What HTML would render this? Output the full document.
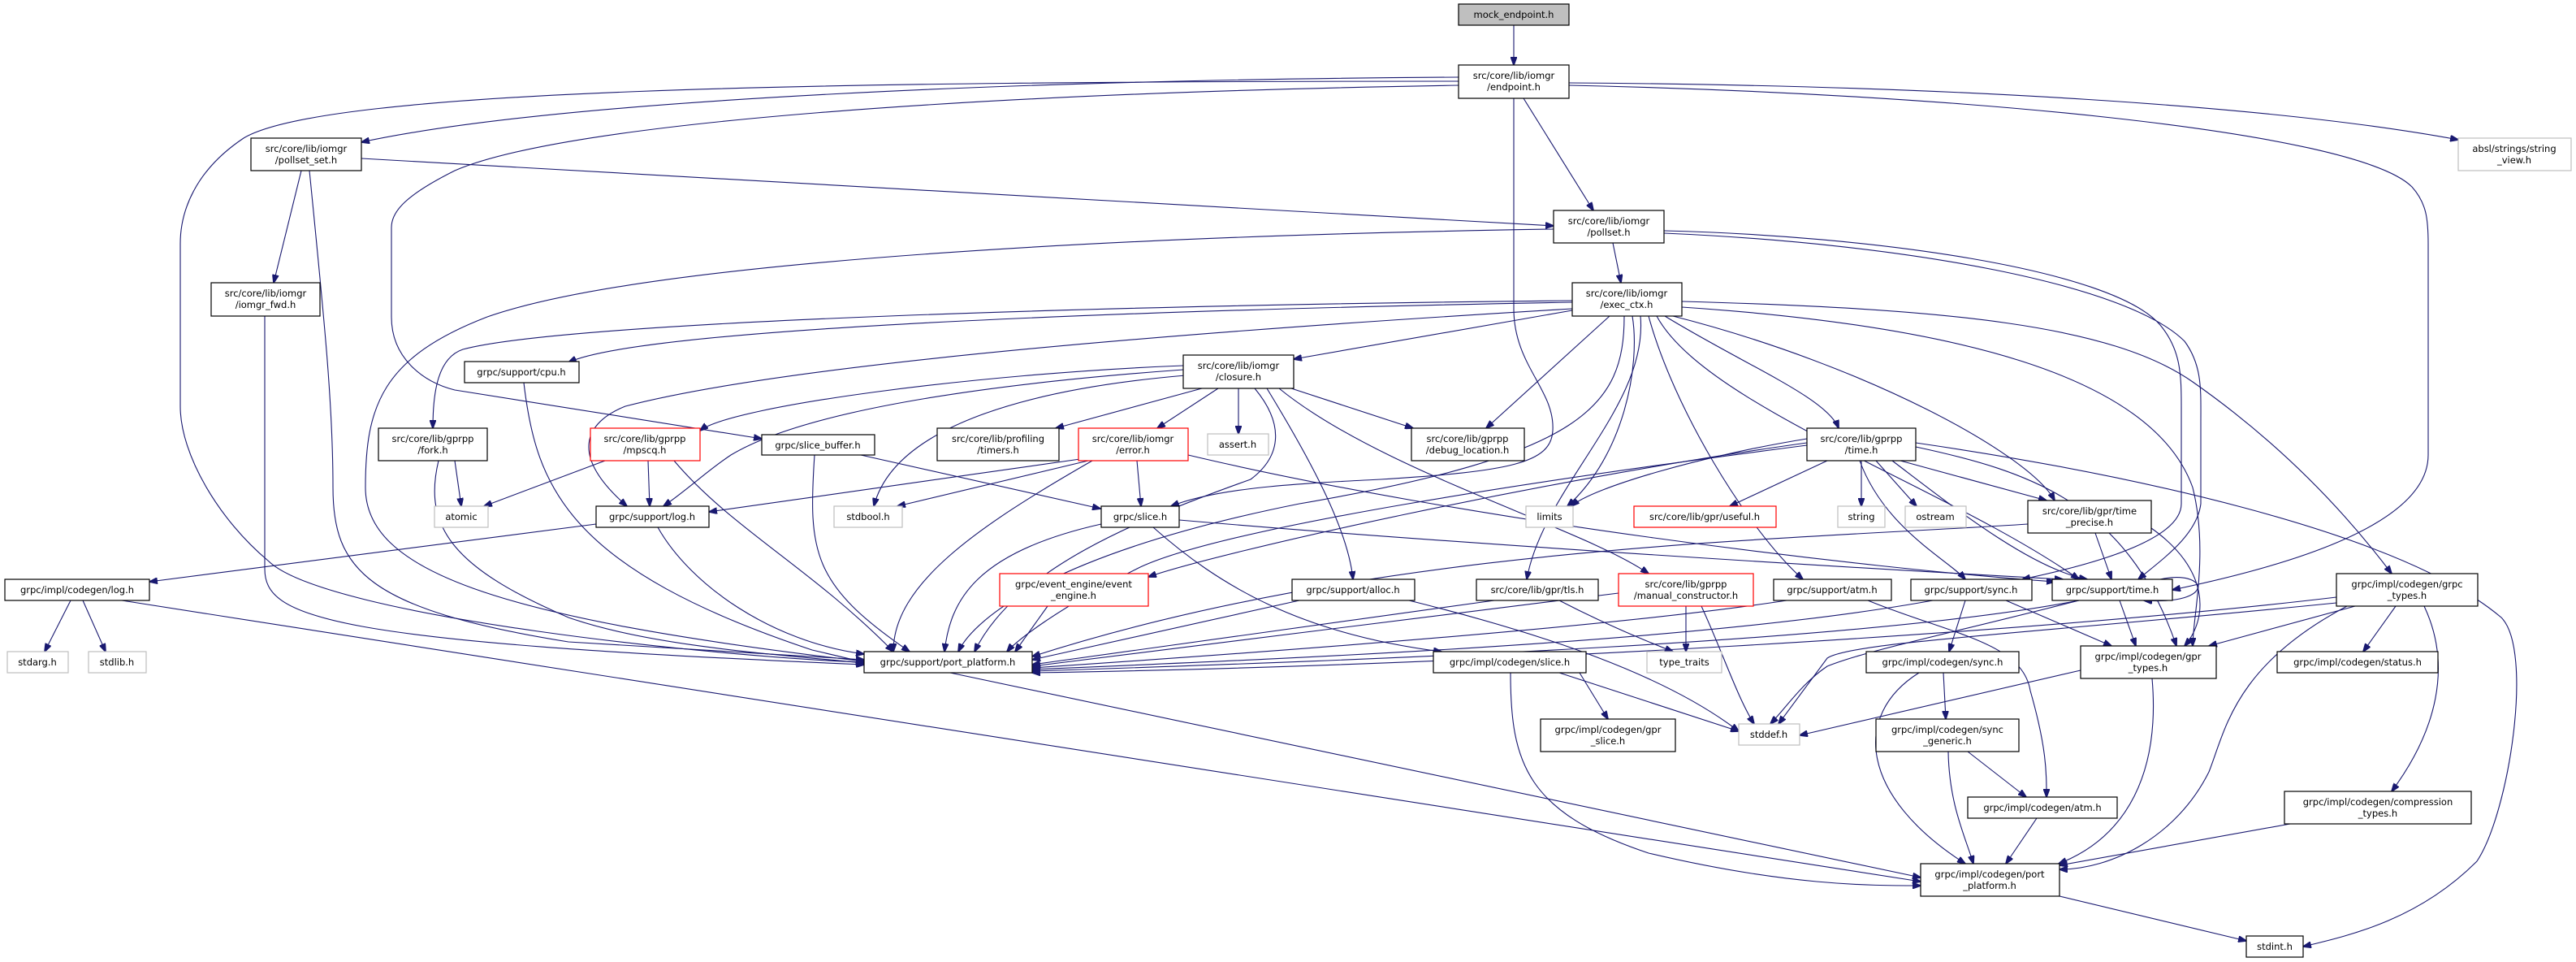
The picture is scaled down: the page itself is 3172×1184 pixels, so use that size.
<!DOCTYPE html>
<html><head><meta charset="utf-8"><style>
html,body{margin:0;padding:0;background:#fff;}
svg{display:block;}
text{font-family:"DejaVu Sans","Liberation Sans",sans-serif;font-size:11.5px;fill:#000;text-anchor:middle;}
.e{fill:none;stroke:#191970;stroke-width:1.1;marker-end:url(#a);}
.n{fill:#fff;stroke:#000;stroke-width:1.2;}
.g{fill:#fff;stroke:#bfbfbf;stroke-width:1.2;}
.r{fill:#fff;stroke:#ff0000;stroke-width:1.2;}
</style></head><body>
<svg width="3172" height="1184" viewBox="0 0 3172 1184" xmlns="http://www.w3.org/2000/svg">
<defs><marker id="a" markerWidth="11" markerHeight="8" refX="10" refY="4" orient="auto" markerUnits="userSpaceOnUse"><path d="M0,0 L11,4 L0,8 z" fill="#191970" stroke="#191970"/></marker></defs>
<g>
<path class="e" d="M1864 31 L1864 80"/>
<path class="e" d="M1796 95 C1300 98, 700 120, 445 175"/>
<path class="e" d="M1796 100 C1000 100, 400 110, 300 170 C240 210, 222 260, 222 300 L222 500 C222 560, 270 640, 330 690 C400 760, 900 810, 1064 815"/>
<path class="e" d="M1796 105 C1200 115, 700 150, 560 210 C500 240, 482 260, 482 280 L482 390 C482 440, 520 470, 560 480 L938 540"/>
<path class="e" d="M1876 121 L1962 259"/>
<path class="e" d="M1932 102 C2400 105, 2800 130, 3027 172"/>
<path class="e" d="M1932 105 C2400 115, 2900 160, 2970 230 C2988 250, 2990 270, 2990 300 L2990 560 C2990 650, 2800 700, 2675 726"/>
<path class="e" d="M1864 121 L1864 380 C1864 450, 1915 480, 1912 530 C1910 570, 1860 580, 1700 590 C1600 595, 1500 600, 1442 623"/>
<path class="e" d="M445 195 L1913 278"/>
<path class="e" d="M371 210 L337 348"/>
<path class="e" d="M381 210 C400 400, 410 500, 410 600 C410 700, 450 750, 700 790 L1064 812"/>
<path class="e" d="M326 389 L326 700 C326 760, 400 790, 1064 818"/>
<path class="e" d="M1986 299 L1996 348"/>
<path class="e" d="M1913 282 C1400 290, 800 320, 600 390 C470 440, 450 500, 450 600 C450 700, 600 760, 1064 814"/>
<path class="e" d="M2049 284 C2300 290, 2600 330, 2660 400 C2685 430, 2686 460, 2686 500 L2686 620 C2686 660, 2600 690, 2490 713"/>
<path class="e" d="M2049 287 C2350 300, 2620 350, 2690 420 C2712 450, 2710 480, 2710 520 L2710 620 C2705 660, 2660 690, 2633 713"/>
<path class="e" d="M1936 382 L1593 442"/>
<path class="e" d="M1936 372 C1500 380, 800 400, 700 446"/>
<path class="e" d="M1936 370 C1400 375, 700 395, 570 430 C540 440, 533 480, 533 527"/>
<path class="e" d="M1936 380 C1600 400, 1000 440, 770 500 C720 520, 700 560, 772 623"/>
<path class="e" d="M1982 389 L1830 527"/>
<path class="e" d="M2050 389 C2150 450, 2250 490, 2264 527"/>
<path class="e" d="M2010 389 C2020 450, 2000 560, 1930 623"/>
<path class="e" d="M2060 389 C2300 450, 2500 560, 2530 616"/>
<path class="e" d="M2071 378 C2400 400, 2650 460, 2700 600 C2720 680, 2700 760, 2700 795"/>
<path class="e" d="M2071 371 C2400 380, 2600 400, 2700 470 C2800 540, 2880 620, 2945 706"/>
<path class="e" d="M2000 389 C2000 500, 1950 560, 1600 620 C1300 680, 1200 760, 1180 802"/>
<path class="e" d="M2020 389 C2030 500, 1900 600, 1880 713"/>
<path class="e" d="M2040 389 C2100 500, 2400 600, 2560 713"/>
<path class="e" d="M2030 389 C2060 500, 2150 650, 2220 713"/>
<path class="e" d="M1457 450 C1200 460, 900 500, 862 530"/>
<path class="e" d="M1457 455 C1250 470, 1000 500, 900 560 C870 580, 850 600, 817 623"/>
<path class="e" d="M1460 462 C1250 480, 1100 530, 1076 623"/>
<path class="e" d="M1480 478 L1300 527"/>
<path class="e" d="M1500 478 L1425 527"/>
<path class="e" d="M1525 478 L1525 534"/>
<path class="e" d="M1590 478 L1740 527"/>
<path class="e" d="M1545 478 C1580 520, 1580 560, 1540 590 C1400 640, 1250 700, 1200 802"/>
<path class="e" d="M1560 478 C1610 560, 1660 650, 1666 713"/>
<path class="e" d="M1575 478 C1700 580, 1950 650, 2030 706"/>
<path class="e" d="M645 471 C660 600, 700 700, 1000 800 L1064 815"/>
<path class="e" d="M560 567 L568 623"/>
<path class="e" d="M540 567 C520 650, 560 700, 700 760 C800 795, 950 805, 1064 816"/>
<path class="e" d="M745 567 L596 623"/>
<path class="e" d="M798 567 L800 623"/>
<path class="e" d="M830 567 C900 650, 1000 700, 1100 802"/>
<path class="e" d="M1060 560 L1355 626"/>
<path class="e" d="M1003 560 C995 680, 1000 720, 1120 802"/>
<path class="e" d="M1330 565 L873 630"/>
<path class="e" d="M1400 567 L1405 623"/>
<path class="e" d="M1340 567 L1105 623"/>
<path class="e" d="M1345 567 C1200 650, 1100 720, 1100 802"/>
<path class="e" d="M1463 560 C1800 640, 2300 700, 2530 716"/>
<path class="e" d="M734 645 L184 716"/>
<path class="e" d="M810 649 C850 720, 950 790, 1064 805"/>
<path class="e" d="M87 739 L55 802"/>
<path class="e" d="M102 739 L130 802"/>
<path class="e" d="M150 739 L2365 1085"/>
<path class="e" d="M1356 645 C1200 680, 1170 740, 1163 802"/>
<path class="e" d="M1420 649 C1500 720, 1600 780, 1775 802"/>
<path class="e" d="M1452 640 C1800 670, 2300 700, 2540 713"/>
<path class="e" d="M2225 540 C2100 560, 1960 600, 1935 623"/>
<path class="e" d="M2250 567 L2130 623"/>
<path class="e" d="M2292 567 L2292 623"/>
<path class="e" d="M2310 567 L2360 623"/>
<path class="e" d="M2340 567 L2520 616"/>
<path class="e" d="M2330 567 C2400 620, 2500 700, 2570 713"/>
<path class="e" d="M2359 550 C2500 580, 2620 620, 2680 795"/>
<path class="e" d="M2359 545 C2600 580, 2950 650, 3080 760 C3120 800, 3090 1000, 3050 1060 C2980 1130, 2900 1150, 2836 1165"/>
<path class="e" d="M2225 548 C1900 590, 1500 650, 1400 700 C1300 750, 1250 790, 1240 802"/>
<path class="e" d="M2225 545 C1900 590, 1500 680, 1414 710"/>
<path class="e" d="M2290 567 C2320 650, 2400 690, 2420 713"/>
<path class="e" d="M2580 656 L2600 713"/>
<path class="e" d="M2649 650 C2720 700, 2720 760, 2690 795"/>
<path class="e" d="M2497 645 C2200 665, 1700 670, 1271 808"/>
<path class="e" d="M1290 746 L1250 802"/>
<path class="e" d="M1600 739 L1271 812"/>
<path class="e" d="M1735 739 C1900 780, 2050 830, 2141 900"/>
<path class="e" d="M1840 739 L1271 818"/>
<path class="e" d="M1920 739 C1980 770, 2030 790, 2060 802"/>
<path class="e" d="M1993 730 L1271 820"/>
<path class="e" d="M2076 746 L2076 802"/>
<path class="e" d="M2095 746 C2120 800, 2140 860, 2160 891"/>
<path class="e" d="M2200 739 C2000 770, 1600 800, 1271 822"/>
<path class="e" d="M2300 739 C2400 780, 2490 790, 2500 850 C2520 920, 2520 950, 2520 981"/>
<path class="e" d="M2380 739 C2100 790, 1600 810, 1271 824"/>
<path class="e" d="M2420 739 L2400 802"/>
<path class="e" d="M2470 739 L2600 795"/>
<path class="e" d="M2560 739 C2300 790, 1700 812, 1271 826"/>
<path class="e" d="M2610 739 L2630 795"/>
<path class="e" d="M2560 739 C2400 780, 2300 800, 2250 820 C2220 840, 2200 870, 2180 891"/>
<path class="e" d="M2660 713 C2720 700, 2730 745, 2640 739"/>
<path class="e" d="M2877 735 C2500 780, 1800 820, 1271 828"/>
<path class="e" d="M2900 746 L2720 795"/>
<path class="e" d="M2950 746 L2910 802"/>
<path class="e" d="M2985 746 C3020 820, 3000 900, 2945 974"/>
<path class="e" d="M2890 746 C2750 820, 2740 900, 2720 950 C2680 1030, 2600 1070, 2536 1070"/>
<path class="e" d="M2877 742 C2500 780, 2280 790, 2250 810 L2190 891"/>
<path class="e" d="M1170 828 L2365 1080"/>
<path class="e" d="M1945 828 L1980 885"/>
<path class="e" d="M1920 828 L2141 900"/>
<path class="e" d="M1860 828 C1860 940, 1880 1000, 2030 1050 C2200 1090, 2300 1090, 2365 1090"/>
<path class="e" d="M2562 825 L2216 905"/>
<path class="e" d="M2650 835 C2660 950, 2620 1030, 2535 1063"/>
<path class="e" d="M2393 828 L2396 885"/>
<path class="e" d="M2363 828 C2280 880, 2290 980, 2420 1063"/>
<path class="e" d="M2399 925 C2400 990, 2420 1030, 2430 1063"/>
<path class="e" d="M2423 925 L2495 981"/>
<path class="e" d="M2508 1007 L2470 1063"/>
<path class="e" d="M2820 1014 L2536 1065"/>
<path class="e" d="M2536 1103 L2766 1158"/>
</g>
<g>
<rect x="1796" y="5" width="136" height="26" fill="#bfbfbf" stroke="#000" stroke-width="1.2"/><text x="1864" y="22">mock_endpoint.h</text>
<rect class="n" x="1796" y="80" width="136" height="41"/><text x="1864" y="97">src/core/lib/iomgr</text><text x="1864" y="111">/endpoint.h</text>
<rect class="n" x="309" y="170" width="136" height="40"/><text x="377" y="187">src/core/lib/iomgr</text><text x="377" y="201">/pollset_set.h</text>
<rect class="g" x="3027" y="170" width="139" height="40"/><text x="3096" y="187">absl/strings/string</text><text x="3096" y="201">_view.h</text>
<rect class="n" x="1913" y="259" width="136" height="40"/><text x="1981" y="276">src/core/lib/iomgr</text><text x="1981" y="290">/pollset.h</text>
<rect class="n" x="260" y="348" width="134" height="41"/><text x="327" y="365">src/core/lib/iomgr</text><text x="327" y="379">/iomgr_fwd.h</text>
<rect class="n" x="1936" y="348" width="135" height="41"/><text x="2003" y="365">src/core/lib/iomgr</text><text x="2003" y="379">/exec_ctx.h</text>
<rect class="n" x="572" y="445" width="141" height="26"/><text x="642" y="462">grpc/support/cpu.h</text>
<rect class="n" x="1457" y="437" width="136" height="41"/><text x="1525" y="454">src/core/lib/iomgr</text><text x="1525" y="468">/closure.h</text>
<rect class="n" x="466" y="527" width="134" height="40"/><text x="533" y="544">src/core/lib/gprpp</text><text x="533" y="558">/fork.h</text>
<rect class="r" x="727" y="527" width="135" height="40"/><text x="794" y="544">src/core/lib/gprpp</text><text x="794" y="558">/mpscq.h</text>
<rect class="n" x="938" y="535" width="139" height="25"/><text x="1007" y="552">grpc/slice_buffer.h</text>
<rect class="n" x="1154" y="527" width="150" height="40"/><text x="1229" y="544">src/core/lib/profiling</text><text x="1229" y="558">/timers.h</text>
<rect class="r" x="1328" y="527" width="135" height="40"/><text x="1395" y="544">src/core/lib/iomgr</text><text x="1395" y="558">/error.h</text>
<rect class="g" x="1487" y="534" width="75" height="26"/><text x="1524" y="551">assert.h</text>
<rect class="n" x="1738" y="527" width="139" height="40"/><text x="1807" y="544">src/core/lib/gprpp</text><text x="1807" y="558">/debug_location.h</text>
<rect class="n" x="2225" y="527" width="134" height="40"/><text x="2292" y="544">src/core/lib/gprpp</text><text x="2292" y="558">/time.h</text>
<rect class="g" x="535" y="623" width="66" height="26"/><text x="568" y="640">atomic</text>
<rect class="n" x="734" y="623" width="139" height="26"/><text x="803" y="640">grpc/support/log.h</text>
<rect class="g" x="1027" y="623" width="84" height="26"/><text x="1069" y="640">stdbool.h</text>
<rect class="n" x="1356" y="623" width="96" height="26"/><text x="1404" y="640">grpc/slice.h</text>
<rect class="g" x="1879" y="623" width="58" height="26"/><text x="1908" y="640">limits</text>
<rect class="r" x="2012" y="623" width="175" height="26"/><text x="2099" y="640">src/core/lib/gpr/useful.h</text>
<rect class="g" x="2263" y="623" width="58" height="26"/><text x="2292" y="640">string</text>
<rect class="g" x="2346" y="623" width="75" height="26"/><text x="2383" y="640">ostream</text>
<rect class="n" x="2497" y="616" width="152" height="40"/><text x="2573" y="633">src/core/lib/gpr/time</text><text x="2573" y="647">_precise.h</text>
<rect class="n" x="6" y="713" width="178" height="26"/><text x="95" y="730">grpc/impl/codegen/log.h</text>
<rect class="r" x="1231" y="706" width="183" height="40"/><text x="1322" y="723">grpc/event_engine/event</text><text x="1322" y="737">_engine.h</text>
<rect class="n" x="1591" y="713" width="151" height="26"/><text x="1666" y="730">grpc/support/alloc.h</text>
<rect class="n" x="1818" y="713" width="150" height="26"/><text x="1893" y="730">src/core/lib/gpr/tls.h</text>
<rect class="r" x="1993" y="706" width="166" height="40"/><text x="2076" y="723">src/core/lib/gprpp</text><text x="2076" y="737">/manual_constructor.h</text>
<rect class="n" x="2184" y="713" width="145" height="26"/><text x="2256" y="730">grpc/support/atm.h</text>
<rect class="n" x="2353" y="713" width="149" height="26"/><text x="2427" y="730">grpc/support/sync.h</text>
<rect class="n" x="2527" y="713" width="148" height="26"/><text x="2601" y="730">grpc/support/time.h</text>
<rect class="n" x="2877" y="706" width="174" height="40"/><text x="2964" y="723">grpc/impl/codegen/grpc</text><text x="2964" y="737">_types.h</text>
<rect class="g" x="9" y="802" width="75" height="26"/><text x="46" y="819">stdarg.h</text>
<rect class="g" x="109" y="802" width="71" height="26"/><text x="144" y="819">stdlib.h</text>
<rect class="n" x="1064" y="802" width="207" height="26"/><text x="1167" y="819">grpc/support/port_platform.h</text>
<rect class="n" x="1765" y="802" width="188" height="26"/><text x="1859" y="819">grpc/impl/codegen/slice.h</text>
<rect class="g" x="2028" y="802" width="92" height="26"/><text x="2074" y="819">type_traits</text>
<rect class="n" x="2562" y="795" width="167" height="40"/><text x="2645" y="812">grpc/impl/codegen/gpr</text><text x="2645" y="826">_types.h</text>
<rect class="n" x="2298" y="802" width="188" height="26"/><text x="2392" y="819">grpc/impl/codegen/sync.h</text>
<rect class="n" x="2804" y="802" width="198" height="26"/><text x="2903" y="819">grpc/impl/codegen/status.h</text>
<rect class="n" x="1897" y="885" width="166" height="40"/><text x="1980" y="902">grpc/impl/codegen/gpr</text><text x="1980" y="916">_slice.h</text>
<rect class="g" x="2141" y="891" width="75" height="26"/><text x="2178" y="908">stddef.h</text>
<rect class="n" x="2310" y="885" width="176" height="40"/><text x="2398" y="902">grpc/impl/codegen/sync</text><text x="2398" y="916">_generic.h</text>
<rect class="n" x="2423" y="981" width="184" height="26"/><text x="2515" y="998">grpc/impl/codegen/atm.h</text>
<rect class="n" x="2813" y="974" width="230" height="40"/><text x="2928" y="991">grpc/impl/codegen/compression</text><text x="2928" y="1005">_types.h</text>
<rect class="n" x="2365" y="1063" width="171" height="40"/><text x="2450" y="1080">grpc/impl/codegen/port</text><text x="2450" y="1094">_platform.h</text>
<rect class="n" x="2766" y="1152" width="70" height="26"/><text x="2801" y="1169">stdint.h</text>
</g>
</svg>
</body></html>
